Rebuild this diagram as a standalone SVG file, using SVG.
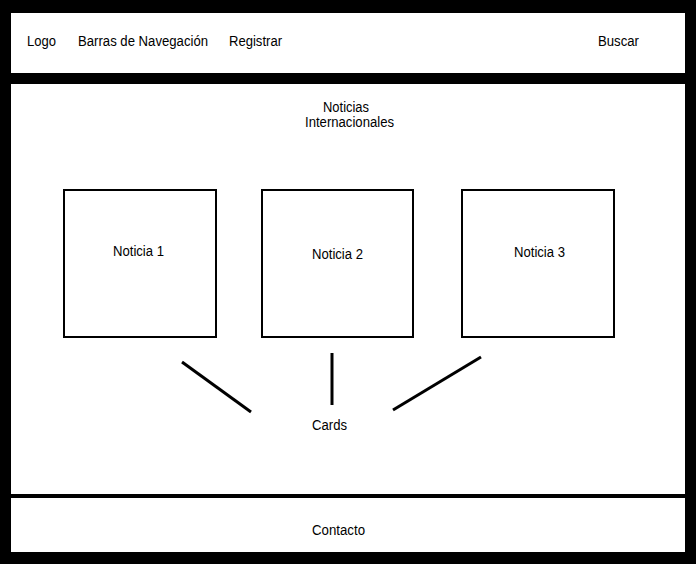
<svg xmlns="http://www.w3.org/2000/svg" width="696" height="564" viewBox="0 0 696 564">
<style>
text{font-family:"Liberation Sans",Arial,sans-serif;font-size:14px;fill:#000}
.box{fill:#fff;stroke:#000;stroke-width:2}
.conn{stroke:#000;stroke-width:3;fill:none}
</style>
<rect x="0" y="0" width="696" height="564" fill="#000"/>
<g id="header">
<rect x="11" y="13" width="674" height="60" fill="#fff"/>
<text x="27" y="46" textLength="29" lengthAdjust="spacingAndGlyphs">Logo</text>
<text x="78" y="46" textLength="130" lengthAdjust="spacingAndGlyphs">Barras de Navegación</text>
<text x="229" y="46" textLength="53" lengthAdjust="spacingAndGlyphs">Registrar</text>
<text x="598" y="46" textLength="41" lengthAdjust="spacingAndGlyphs">Buscar</text>
</g>
<g id="main">
<rect x="11" y="84" width="674" height="410" fill="#fff"/>
<text x="323" y="112" font-size="12.5" textLength="46" lengthAdjust="spacingAndGlyphs">Noticias</text>
<text x="305" y="127" font-size="12.5" textLength="89" lengthAdjust="spacingAndGlyphs">Internacionales</text>
</g>
<g id="footer">
<rect x="11" y="498" width="674" height="54" fill="#fff"/>
<rect x="11" y="494" width="18" height="4" fill="#000"/>
<rect x="29" y="495" width="656" height="3" fill="#000"/>
<text x="312" y="535" textLength="53" lengthAdjust="spacingAndGlyphs">Contacto</text>
</g>
<g id="noticia1">
<rect class="box" x="64" y="190" width="152" height="147"/>
<text x="113" y="256" textLength="51" lengthAdjust="spacingAndGlyphs">Noticia 1</text>
</g>
<g id="noticia2">
<rect class="box" x="262" y="190" width="151" height="147"/>
<text x="312" y="259" textLength="51" lengthAdjust="spacingAndGlyphs">Noticia 2</text>
</g>
<g id="noticia3">
<rect class="box" x="462" y="190" width="152" height="147"/>
<text x="514" y="257" textLength="51" lengthAdjust="spacingAndGlyphs">Noticia 3</text>
</g>
<g id="cards">
<text x="312" y="430" textLength="35" lengthAdjust="spacingAndGlyphs">Cards</text>
</g>
<g id="connectors">
<line class="conn" x1="182" y1="362" x2="251" y2="412"/>
<line class="conn" x1="332" y1="353" x2="332" y2="405"/>
<line class="conn" x1="393" y1="410" x2="481" y2="357"/>
</g>
</svg>
